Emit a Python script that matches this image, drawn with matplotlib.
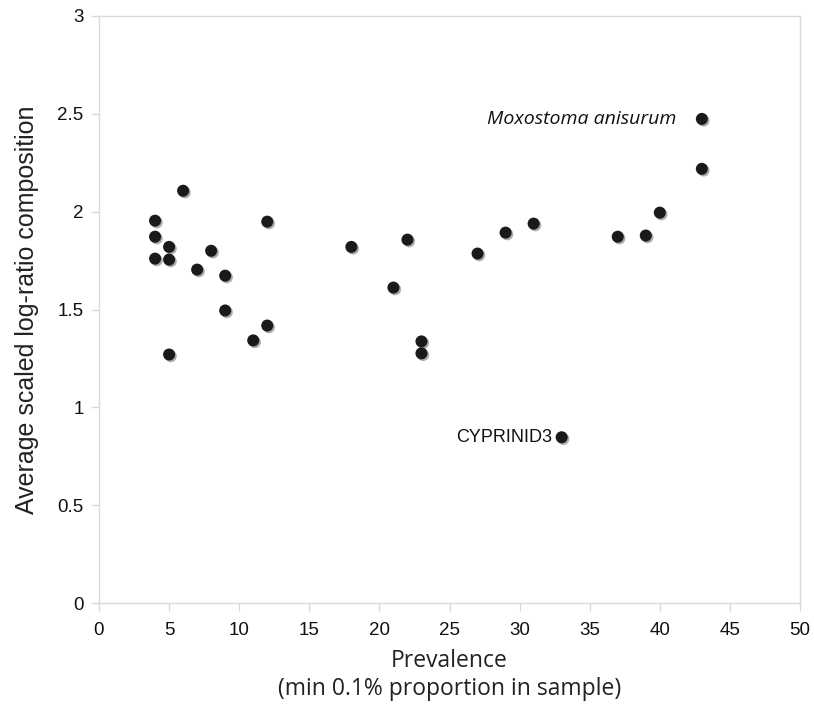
import matplotlib
matplotlib.use("Agg")
import matplotlib.pyplot as plt
import matplotlib.patheffects as pe

prevalence = [4, 4, 4, 5, 5, 5, 6, 7, 8, 9, 9, 11, 12, 12, 18, 21, 22, 23, 23,
              27, 29, 31, 33, 37, 39, 40, 43, 43]
composition = [1.954, 1.872, 1.76, 1.82, 1.755, 1.27, 2.107, 1.704, 1.80, 1.673,
               1.495, 1.342, 1.949, 1.418, 1.82, 1.612, 1.857, 1.337, 1.276,
               1.786, 1.893, 1.939, 0.847, 1.872, 1.878, 1.995, 2.474, 2.219]
x_ticks = [0, 5, 10, 15, 20, 25, 30, 35, 40, 45, 50]
y_ticks = [0, 0.5, 1, 1.5, 2, 2.5, 3]
y_tick_labels = ["0", "0.5", "1", "1.5", "2", "2.5", "3"]

grey = "#d9d9d9"
label_font = ["Open Sans", "DejaVu Sans"]
tick_font = ["Liberation Sans", "DejaVu Sans"]

fig = plt.figure(figsize=(8.14, 7.05), dpi=100)
ax = fig.add_axes([99 / 814, 1 - 603 / 705, 701 / 814, 587 / 705])

ax.scatter(prevalence, composition, s=75, color="#1a1a1a", linewidths=0,
           zorder=3,
           path_effects=[pe.SimplePatchShadow(offset=(1.2, -1.2),
                                              shadow_rgbFace="#888888",
                                              alpha=0.7),
                         pe.Normal()])

ax.set_xlim(0, 50)
ax.set_ylim(0, 3)
ax.set_xticks(x_ticks)
ax.set_yticks(y_ticks)
ax.set_yticklabels(y_tick_labels)
for side in ["left", "bottom", "top", "right"]:
    ax.spines[side].set_color(grey)
    ax.spines[side].set_linewidth(1.0)
ax.tick_params(axis="both", direction="out", length=6, width=1.0, color=grey,
               labelsize=13.5)
ax.tick_params(axis="x", pad=8)
ax.tick_params(axis="y", pad=5)
for lbl in ax.get_xticklabels() + ax.get_yticklabels():
    lbl.set_family(tick_font)
    lbl.set_color("#111111")

ax.set_xlabel("Prevalence\n(min 0.1% proportion in sample)", fontsize=16.5,
              family=label_font, color="#222222", labelpad=7, linespacing=1.2)
ax.set_ylabel("Average scaled log-ratio composition", fontsize=18,
              family=tick_font, color="#222222", labelpad=13)

ax.annotate("Moxostoma anisurum", (prevalence[26], composition[26]),
            xytext=(-18, 0), textcoords="offset points", ha="right",
            va="center", fontsize=14, style="italic", family=label_font,
            color="#111111")
ax.annotate("CYPRINID3", (prevalence[22], composition[22]),
            xytext=(-7, 0), textcoords="offset points", ha="right",
            va="center", fontsize=13, family=tick_font, color="#111111")

fig.savefig("out.png", dpi=100)
